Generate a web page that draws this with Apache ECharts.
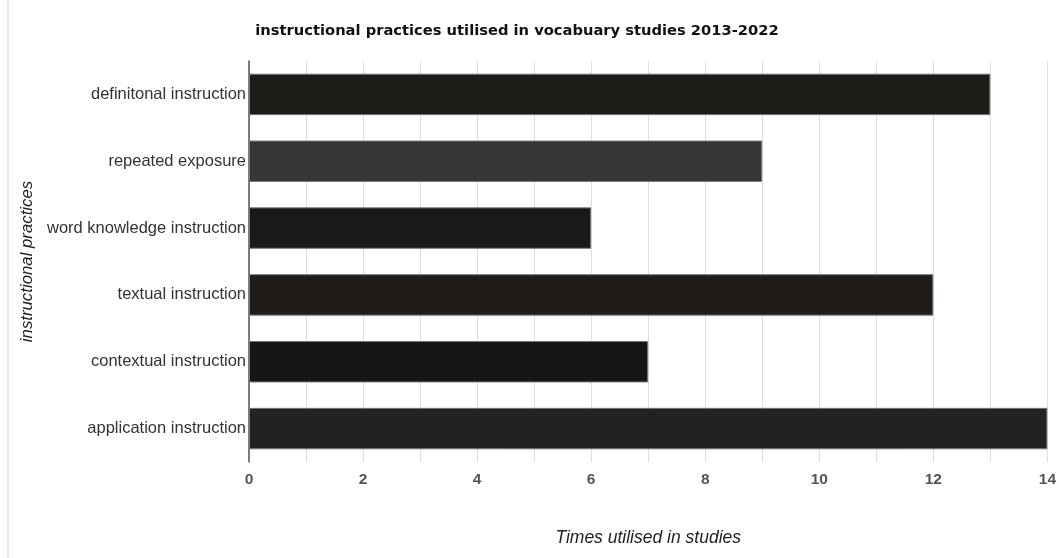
<!DOCTYPE html>
<html><head><meta charset="utf-8">
<script src="https://cdn.jsdelivr.net/npm/echarts@6/dist/echarts.min.js"></script>
<style>html,body{margin:0;padding:0;background:#fff}#c{width:1059px;height:558px}</style>
</head><body><div id="c"></div>
<script>
const categories = ["definitonal instruction","repeated exposure","word knowledge instruction","textual instruction","contextual instruction","application instruction"];
const values = [13, 9, 6, 12, 7, 14];
const barColors = ["#1c1c18","#363636","#19191b","#1f1c1a","#151515","#20231f"];
const xTicks = [0,2,4,6,8,10,12,14];

const chart = echarts.init(document.getElementById('c'));
chart.setOption({
  backgroundColor: '#fff',
  animation: false,
  title: {
    text: 'instructional practices utilised in vocabuary studies 2013-2022',
    left: 512, top: 19, textAlign: 'center',
    textStyle: {fontFamily: 'DejaVu Sans', fontWeight: 'bold', fontSize: 14.7, color: '#111'}
  },
  graphic: [{type: 'line', shape: {x1: 8, y1: 0, x2: 8, y2: 558}, style: {stroke: '#e6e6ee', lineWidth: 2}}],
  grid: {left: 249, right: 11, top: 61, bottom: 96},
  xAxis: {
    type: 'value', min: 0, max: 14, interval: 1,
    name: 'Times utilised in studies', nameLocation: 'middle', nameGap: 67,
    nameTextStyle: {fontFamily: 'Liberation Sans', fontStyle: 'italic', fontSize: 17.5, color: '#222'},
    axisLine: {show: false}, axisTick: {show: false},
    axisLabel: {
      margin: 10, fontFamily: 'Liberation Sans', fontWeight: 'bold', fontSize: 15.5, color: '#555',
      formatter: v => xTicks.includes(v) ? String(v) : ''
    },
    splitLine: {show: true, lineStyle: {color: '#dedede', width: 1}}
  },
  yAxis: {
    type: 'category', data: categories, inverse: true,
    name: 'instructional practices', nameLocation: 'middle', nameGap: 207,
    nameTextStyle: {fontFamily: 'Liberation Sans', fontStyle: 'italic', fontSize: 16.8, color: '#222'},
    axisLine: {show: true, lineStyle: {color: '#555', width: 1.5}},
    axisTick: {show: false},
    axisLabel: {margin: 3, fontFamily: 'Liberation Sans', fontSize: 16.5, color: '#333'}
  },
  series: [{
    type: 'bar', barCategoryGap: '38%',
    data: values.map((v, i) => ({value: v, itemStyle: {color: barColors[i]}})),
    itemStyle: {borderColor: '#777', borderWidth: 1}
  }]
});
</script></body></html>
